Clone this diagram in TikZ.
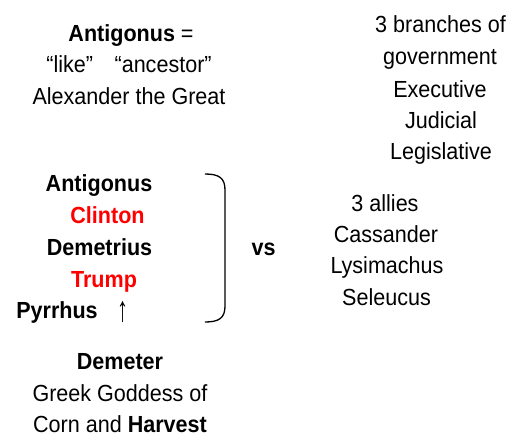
\documentclass[tikz,border=0pt]{standalone}
\usepackage{fontspec}
\usepackage{graphicx}
\setmainfont{Liberation Sans}
% slightly narrow, tall lettering
\newcommand{\narrow}[1]{\scalebox{0.925}[1]{#1}}
\begin{document}
\begin{tikzpicture}[x=1pt,y=-1pt,
  txt/.style={anchor=base,inner sep=0pt,font=\fontsize{23.3}{31}\selectfont},
  bold/.style={txt,font=\fontsize{23.3}{31}\selectfont\bfseries},
  redbold/.style={bold,text=red},
  bracket/.style={draw=black,line width=1.3pt}]
\useasboundingbox (0,0) rectangle (518,441);

% name and meaning
\node[txt] (t1) at (131,42) {\narrow{\textbf{Antigonus} =}};
\node[txt] (t2) at (129,73) {\narrow{“like”\quad“ancestor”}};
\node[txt] (t3) at (129,104) {\narrow{Alexander the Great}};

% the line of kings
\node[bold] (k1) at (99,191) {\narrow{Antigonus}};
\node[redbold] (k2) at (107.5,223) {\narrow{Clinton}};
\node[bold] (k3) at (99.5,255) {\narrow{Demetrius}};
\node[redbold] (k4) at (104,287) {\narrow{Trump}};
\node[bold] (k5) at (57,318) {\narrow{Pyrrhus}};
\node[txt,font=\fontsize{21}{31}\selectfont] (up) at (122.7,321.5) {\scalebox{1.05}[1.7]{↑}};

% bracket and versus
\draw[bracket] (205,174) .. controls (219,174) and (225,178) .. (225,190)
  -- (225,306) .. controls (225,318) and (219,322) .. (205,322);
\node[bold] (vs) at (263.5,255) {\narrow{vs}};

% the goddess
\node[bold] (d1) at (120,369) {\narrow{Demeter}};
\node[txt] (d2) at (120,401) {\narrow{Greek Goddess of}};
\node[txt] (d3) at (120,432) {\narrow{Corn and \textbf{Harvest}}};

% branches of government
\node[txt] (g1) at (440.5,33) {\narrow{3 branches of}};
\node[txt] (g2) at (440,65) {\narrow{government}};
\node[txt] (g3) at (440,97) {\narrow{Executive}};
\node[txt] (g4) at (441,128) {\narrow{Judicial}};
\node[txt] (g5) at (441,159) {\narrow{Legislative}};

% the allies
\node[txt] (a1) at (385,211) {\narrow{3 allies}};
\node[txt] (a2) at (386,242) {\narrow{Cassander}};
\node[txt] (a3) at (387,273) {\narrow{Lysimachus}};
\node[txt] (a4) at (386.5,305) {\narrow{Seleucus}};
\end{tikzpicture}
\end{document}
